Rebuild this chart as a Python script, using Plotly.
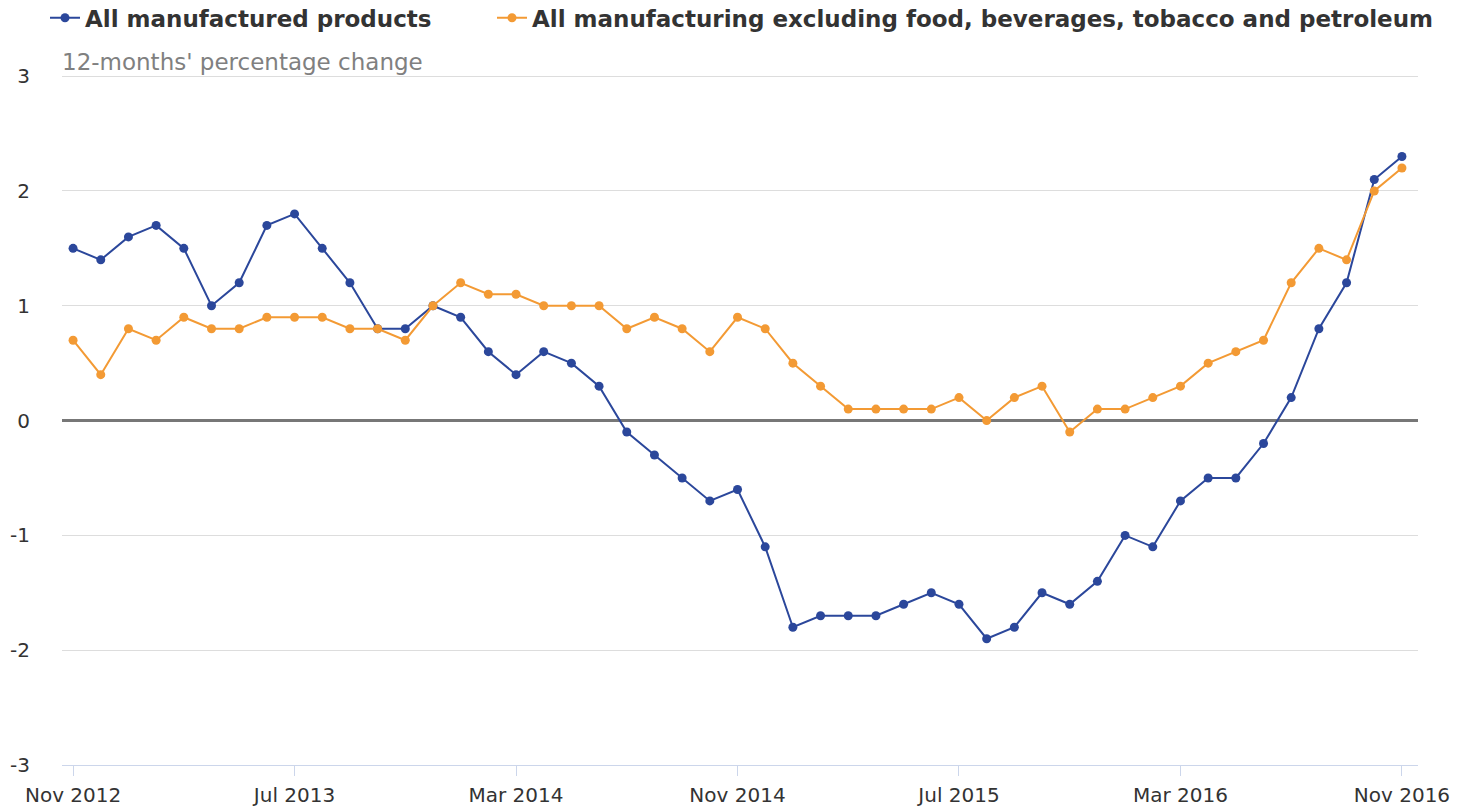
import pandas as pd
import plotly.graph_objects as go

months = [d.strftime("%b %Y") for d in pd.date_range("2012-11-01", "2016-11-01", freq="MS")]

all_manufactured = [1.5, 1.4, 1.6, 1.7, 1.5, 1.0, 1.2, 1.7, 1.8, 1.5, 1.2, 0.8, 0.8,
                    1.0, 0.9, 0.6, 0.4, 0.6, 0.5, 0.3, -0.1, -0.3, -0.5, -0.7, -0.6,
                    -1.1, -1.8, -1.7, -1.7, -1.7, -1.6, -1.5, -1.6, -1.9, -1.8, -1.5, -1.6,
                    -1.4, -1.0, -1.1, -0.7, -0.5, -0.5, -0.2, 0.2, 0.8, 1.2, 2.1, 2.3]
excl_food_petrol = [0.7, 0.4, 0.8, 0.7, 0.9, 0.8, 0.8, 0.9, 0.9, 0.9, 0.8, 0.8, 0.7,
                    1.0, 1.2, 1.1, 1.1, 1.0, 1.0, 1.0, 0.8, 0.9, 0.8, 0.6, 0.9,
                    0.8, 0.5, 0.3, 0.1, 0.1, 0.1, 0.1, 0.2, 0.0, 0.2, 0.3, -0.1,
                    0.1, 0.1, 0.2, 0.3, 0.5, 0.6, 0.7, 1.2, 1.5, 1.4, 2.0, 2.2]
tick_labels = months[::8]
y_ticks = [-3, -2, -1, 0, 1, 2, 3]
y_tick_text = ["-3", "-2", "-1", "0", "1", "2", "3"]

FONT = "DejaVu Sans"
BLUE = "#2B479B"
ORANGE = "#F39A34"

fig = go.Figure()
fig.add_trace(go.Scatter(x=months, y=all_manufactured, mode="lines+markers",
                         name="All manufactured products", legend="legend",
                         line=dict(color=BLUE, width=2), marker=dict(size=9, color=BLUE)))
fig.add_trace(go.Scatter(x=months, y=excl_food_petrol, mode="lines+markers",
                         name="All manufacturing excluding food, beverages, tobacco and petroleum",
                         legend="legend2",
                         line=dict(color=ORANGE, width=2), marker=dict(size=9, color=ORANGE)))

legend_font = dict(family=FONT, size=23, color="#333333", weight="bold")
fig.update_layout(
    width=1458, height=810,
    margin=dict(l=62, r=40, t=75, b=45),
    paper_bgcolor="white", plot_bgcolor="white",
    font=dict(family=FONT, size=18, color="#333333"),
    showlegend=True,
    legend=dict(orientation="h", xref="container", yref="container",
                x=45 / 1458, y=0.978, xanchor="left", yanchor="middle",
                font=legend_font, itemclick=False),
    legend2=dict(orientation="h", xref="container", yref="container",
                 x=492 / 1458, y=0.978, xanchor="left", yanchor="middle",
                 font=legend_font, itemclick=False),
    xaxis=dict(type="category", range=[-0.4, 48.58], tickmode="array",
               tickvals=tick_labels, ticktext=tick_labels, automargin=False,
               showgrid=False, showline=True, linecolor="#CCD6EB", linewidth=1,
               ticks="outside", ticklen=10, tickcolor="#CCD6EB", ticklabelstandoff=2,
               tickfont=dict(size=20, color="#333333"), zeroline=False),
    yaxis=dict(range=[-3, 3.01], tickvals=y_ticks, ticktext=y_tick_text, automargin=False,
               showgrid=True, gridcolor="#DDDDDD",
               gridwidth=1, zeroline=True, zerolinecolor="#777777", zerolinewidth=3,
               ticks="", ticklabelstandoff=31, tickfont=dict(size=20, color="#333333")),
    annotations=[dict(text="12-months' percentage change", xref="paper", yref="paper",
                      x=0.0, y=1.0, xanchor="left", yanchor="bottom", showarrow=False,
                      xshift=-2, yshift=-2,
                      font=dict(family=FONT, size=23, color="#808080"))],
)

fig.write_html("out.html")
